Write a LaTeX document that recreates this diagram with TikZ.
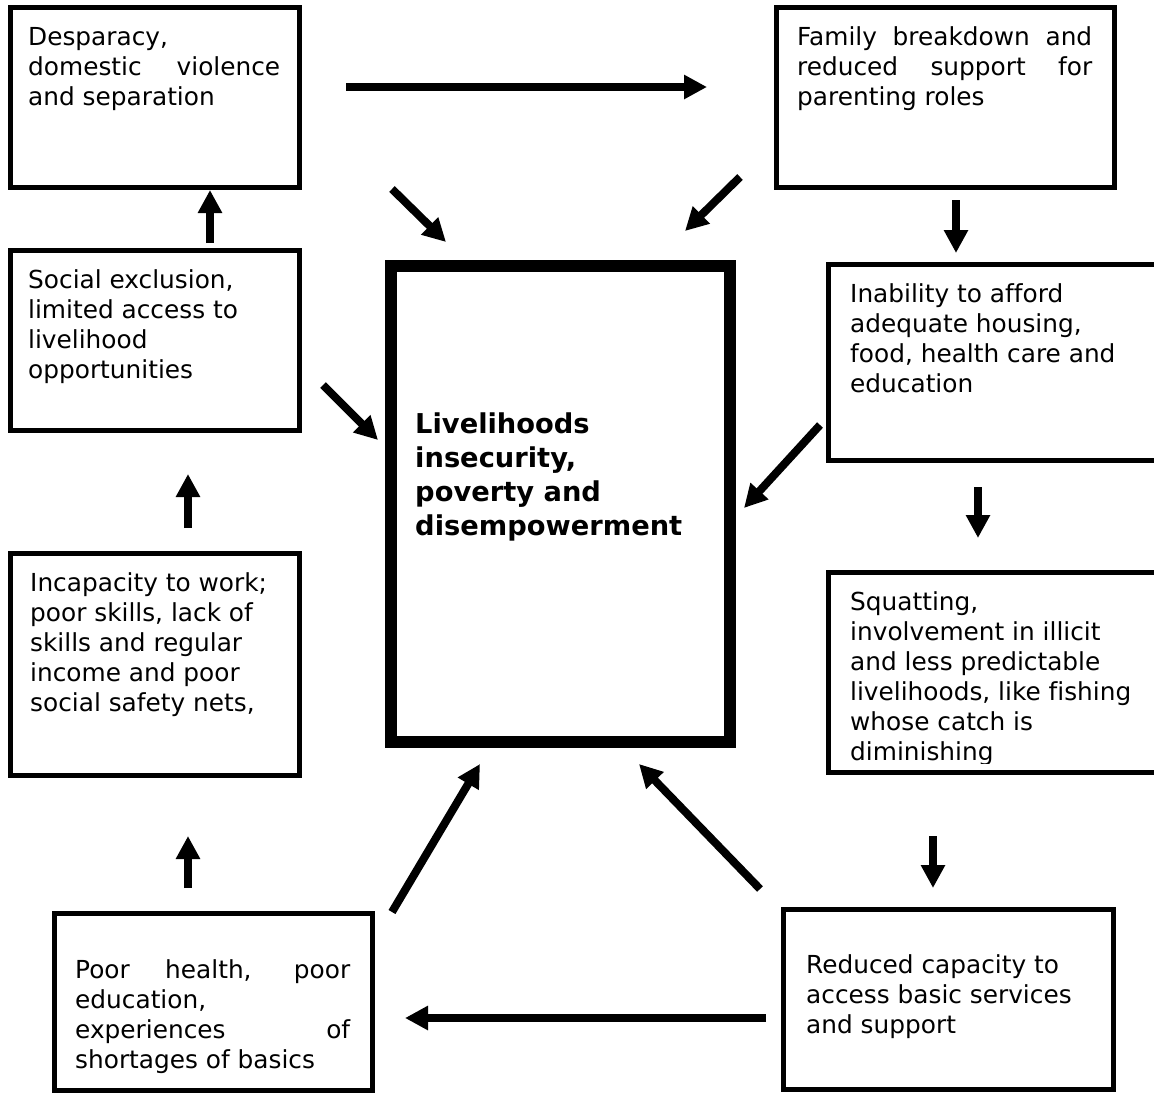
\documentclass[tikz,border=0pt]{standalone}
\usepackage{fontspec}
\setmainfont[Ligatures={NoCommon}]{DejaVu Sans}
\usetikzlibrary{arrows.meta}
\tikzset{
  box/.style={draw, line width=5pt, rectangle, inner sep=0pt},
  bigbox/.style={draw, line width=12pt, rectangle, inner sep=0pt},
  txt/.style={anchor=base west, inner sep=0pt, align=left, font=\fontsize{24.8}{30}\selectfont},
  bigtxt/.style={anchor=base west, inner sep=0pt, align=left, font=\fontsize{27.3}{33.7}\selectfont\bfseries},
  arr/.style={line width=8pt, -{Triangle[length=23pt,width=23pt]}},
}
\begin{document}
\begin{tikzpicture}[x=1pt,y=-1pt]
\clip (0,0) rectangle (1154,1095);
\fill[white] (0,0) rectangle (1154,1095);

% boxes
\node[box, minimum width=289pt, minimum height=180pt] (A) at (155,97.5) {};
\node[box, minimum width=338pt, minimum height=180pt] (B) at (945.5,97.5) {};
\node[box, minimum width=289pt, minimum height=180pt] (C) at (155,340.5) {};
\node[box, minimum width=289pt, minimum height=222pt] (D) at (155,664.5) {};
\node[bigbox, minimum width=339pt, minimum height=476pt] (E) at (560.5,504) {};
\node[box, minimum width=342pt, minimum height=196pt] (F) at (999.5,362.5) {};
\node[box, minimum width=342pt, minimum height=200pt] (G) at (999.5,672.5) {};
\node[box, minimum width=318pt, minimum height=177pt] (H) at (213.5,1002) {};
\node[box, minimum width=330pt, minimum height=180pt] (R) at (948.5,999.5) {};

% texts (base anchor = baseline of the last line)
\node[txt] (At) at (28,105) {Desparacy,\\\makebox[252pt][s]{domestic violence}\\and separation};
\node[txt] (Bt) at (797,105) {\makebox[295pt][s]{Family breakdown and}\\\makebox[295pt][s]{reduced support for}\\parenting roles};
\node[txt] (Ct) at (28,378) {Social exclusion,\\limited access to\\livelihood\\opportunities};
\node[txt] (Dt) at (30,711) {Incapacity to work;\\poor skills, lack of\\skills and regular\\income and poor\\social safety nets,};
\node[bigtxt] (Et) at (415,535) {Livelihoods\\insecurity,\\poverty and\\disempowerment};
\node[txt] (Ft) at (850,392) {Inability to afford\\adequate housing,\\food, health care and\\education};
\begin{scope}
\clip (829,575) rectangle (1154,763);
\node[txt] (Gt) at (850,760) {Squatting,\\involvement in illicit\\and less predictable\\livelihoods, like fishing\\whose catch is\\diminishing};
\end{scope}
\node[txt] (Ht) at (75,1068) {\makebox[275pt][s]{Poor health, poor}\\education,\\\makebox[275pt][s]{experiences of}\\shortages of basics};
\node[txt] (Rt) at (806,1033) {Reduced capacity to\\access basic services\\and support};

% arrow end points
\coordinate (ab1) at (346,87);   \coordinate (ab2) at (707,87);
\coordinate (ca1) at (210,243);  \coordinate (ca2) at (210,190);
\coordinate (ae1) at (392,189);  \coordinate (ae2) at (446,242);
\coordinate (be1) at (740,177);  \coordinate (be2) at (685,231);
\coordinate (bf1) at (956,200);  \coordinate (bf2) at (956,253);
\coordinate (ce1) at (323,385);  \coordinate (ce2) at (378,440);
\coordinate (fe1) at (820,425);  \coordinate (fe2) at (744,508);
\coordinate (dc1) at (188,528);  \coordinate (dc2) at (188,474);
\coordinate (fg1) at (978,487);  \coordinate (fg2) at (978,538);
\coordinate (hd1) at (188,888);  \coordinate (hd2) at (188,836);
\coordinate (he1) at (392,912);  \coordinate (he2) at (480,764);
\coordinate (re1) at (760,889);  \coordinate (re2) at (639,764);
\coordinate (gr1) at (933,836);  \coordinate (gr2) at (933,888);
\coordinate (rh1) at (766,1018); \coordinate (rh2) at (405,1018);

% arrows
\draw[arr] (ab1) -- (ab2);
\draw[arr] (ca1) -- (ca2);
\draw[arr] (ae1) -- (ae2);
\draw[arr] (be1) -- (be2);
\draw[arr] (bf1) -- (bf2);
\draw[arr] (ce1) -- (ce2);
\draw[arr] (fe1) -- (fe2);
\draw[arr] (dc1) -- (dc2);
\draw[arr] (fg1) -- (fg2);
\draw[arr] (hd1) -- (hd2);
\draw[arr] (he1) -- (he2);
\draw[arr] (re1) -- (re2);
\draw[arr] (gr1) -- (gr2);
\draw[arr] (rh1) -- (rh2);
\end{tikzpicture}
\end{document}
